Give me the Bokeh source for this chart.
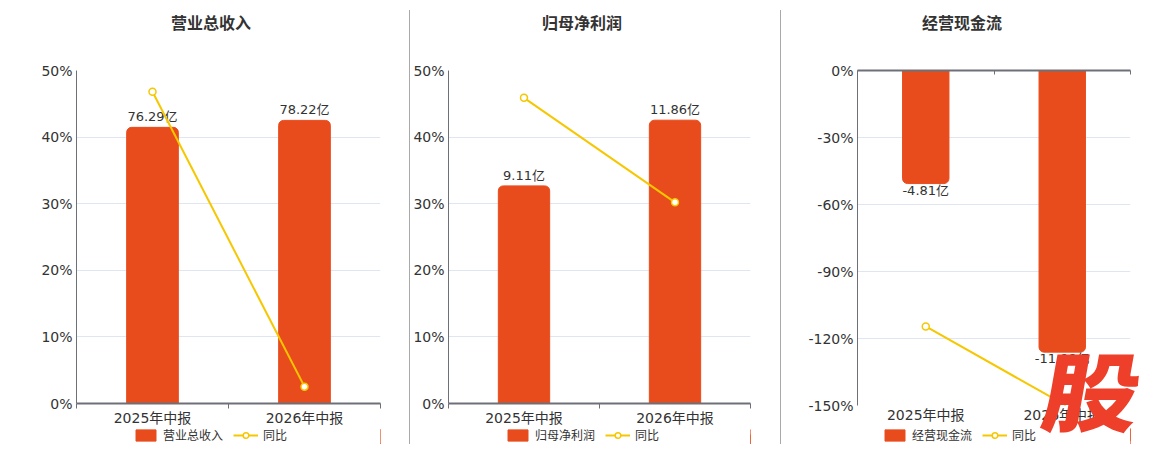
from bokeh.plotting import figure
from bokeh.models import (Range1d, FixedTicker, LinearAxis, Legend, LegendItem,
                          Div, PrintfTickFormatter)
from bokeh.layouts import row, column
from bokeh.embed import file_html
from bokeh.resources import INLINE
from bokeh.core.properties import value

# ---------------- data ----------------
categories = ["2025年中报", "2026年中报"]
titles = ["营业总收入", "归母净利润", "经营现金流"]
revenue = [76.29, 78.22]
revenue_label = ["76.29亿", "78.22亿"]
revenue_yoy = [46.8, 2.53]
profit = [9.11, 11.86]
profit_label = ["9.11亿", "11.86亿"]
profit_yoy = [45.9, 30.2]
cashflow = [-4.81, -11.98]
cashflow_label = ["-4.81亿", "-11.98亿"]
cashflow_yoy = [-114.6, -149.1]
pct_ticks_pos = [0, 10, 20, 30, 40, 50]
pct_ticks_neg = [-150, -120, -90, -60, -30, 0]
yoy_name = "同比"
watermark = "股"

BAR = "#E84C1D"
LINE = "#F6C700"
TXT = "#333333"
AXIS = "#6E7079"
GRID = "#E0E6F1"
FONT = "DejaVu Sans, Noto Sans CJK SC"
CJK = "Noto Sans CJK SC"

n = len(categories)
xs = [i + 0.5 for i in range(n)]
bounds = list(range(n + 1))


def panel(title, vals, labels, yoy, ticks, bar_range, width, left, right,
          title_left, legend_left, neg=False):
    ylo, yhi = min(ticks), max(ticks)

    head = Div(width=width, height=44, margin=0,
               text=('<div style="padding-left:%dpx;line-height:44px;'
                     'font-family:\'%s\';font-size:16px;font-weight:bold;'
                     'color:%s;white-space:nowrap;">%s</div>')
               % (title_left, CJK, TXT, title))

    p = figure(width=width, height=384, x_range=Range1d(0, n),
               y_range=Range1d(ylo, yhi), output_backend="svg",
               toolbar_location=None, min_border_left=left,
               min_border_right=right, min_border_top=26,
               min_border_bottom=23)
    p.outline_line_color = None
    p.background_fill_color = "white"
    p.border_fill_color = "white"
    p.extra_y_ranges = {"bar": Range1d(*bar_range)}

    # axes
    p.yaxis.ticker = FixedTicker(ticks=ticks)
    p.yaxis.formatter = PrintfTickFormatter(format="%d%%")
    p.yaxis.major_tick_out = 0
    p.yaxis.major_tick_in = 0
    p.yaxis.minor_tick_out = 0
    p.yaxis.axis_line_color = AXIS
    p.yaxis.major_label_text_font = FONT
    p.yaxis.major_label_text_font_size = "14px"
    p.yaxis.major_label_text_color = TXT
    p.yaxis.major_label_standoff = 4
    p.ygrid.grid_line_color = GRID
    p.xgrid.visible = False

    p.xaxis.ticker = FixedTicker(ticks=xs, minor_ticks=bounds)
    p.xaxis.major_label_overrides = {x: c for x, c in zip(xs, categories)}
    p.xaxis.major_tick_out = 0
    p.xaxis.major_tick_in = 0
    p.xaxis.minor_tick_in = 0
    p.xaxis.major_label_text_font = FONT
    p.xaxis.major_label_text_font_size = "14px"
    p.xaxis.major_label_text_color = TXT
    p.xaxis.major_label_standoff = 1
    if neg:
        p.xaxis.axis_line_alpha = 0
        p.xaxis.minor_tick_out = 0
        ax = LinearAxis(ticker=FixedTicker(ticks=bounds, minor_ticks=[]),
                        major_tick_in=4, major_tick_out=0, minor_tick_out=0,
                        axis_line_color=AXIS, axis_line_width=2,
                        major_tick_line_color=AXIS,
                        major_label_text_font_size="0px")
        p.add_layout(ax, "above")
    else:
        p.xaxis.axis_line_color = AXIS
        p.xaxis.axis_line_width = 2
        p.xaxis.minor_tick_out = 5
        p.xaxis.minor_tick_line_color = AXIS

    # bars + value labels
    if neg:
        p.vbar(x=xs, top=0, bottom=vals, width=0.34, color=BAR,
               y_range_name="bar", border_radius=(0, 0, 5, 5))
        p.text(x=xs, y=vals, text=labels, y_range_name="bar",
               text_align="center", text_baseline="top", y_offset=-1,
               text_font=value(FONT), text_font_size="13px", text_color=TXT)
    else:
        p.vbar(x=xs, top=vals, bottom=0, width=0.34, color=BAR,
               y_range_name="bar", border_radius=(5, 5, 0, 0))
        p.text(x=xs, y=vals, text=labels, y_range_name="bar",
               text_align="center", text_baseline="bottom", y_offset=-3,
               text_font=value(FONT), text_font_size="13px", text_color=TXT)

    # yoy line
    p.line(xs, yoy, line_color=LINE, line_width=2)
    p.scatter(xs, yoy, marker="circle", size=7, fill_color="white",
              line_color=LINE, line_width=1.5)

    # legend strip: its own canvas below the axis labels; the key renderers
    # carry the same series, which fall far outside this strip's visible span
    lg = figure(width=width, height=16, x_range=Range1d(-4 * n, -3 * n),
                y_range=Range1d(ylo, yhi), output_backend="svg",
                toolbar_location=None, x_axis_type=None, y_axis_type=None,
                min_border=0, min_border_left=left, min_border_right=right,
                min_border_top=0, min_border_bottom=0)
    lg.outline_line_color = None
    lg.grid.visible = False
    lg.background_fill_alpha = 0
    lg.border_fill_alpha = 0
    kb = lg.vbar(x=xs, top=yoy, width=0.34, color=BAR)
    kl = lg.line(x=xs, y=yoy, line_color=LINE, line_width=2)
    ks = lg.scatter(x=xs, y=yoy, marker="circle", size=7, fill_color="white",
                    line_color=LINE, line_width=1.5)
    legend = Legend(items=[LegendItem(label=title, renderers=[kb]),
                           LegendItem(label=yoy_name, renderers=[kl, ks])],
                    orientation="horizontal", location=(legend_left, 1),
                    glyph_width=25, glyph_height=14, label_height=14,
                    label_standoff=5, spacing=10, padding=0, margin=0,
                    border_line_alpha=0, background_fill_alpha=0,
                    label_text_font=FONT, label_text_font_size="12px",
                    label_text_color=TXT)
    lg.add_layout(legend, "center")
    return column(head, p, lg)


c1 = panel(titles[0], revenue, revenue_label, revenue_yoy, pct_ticks_pos,
           (0, 92.0), 409, 76, 29, 171, 57)
c2 = panel(titles[1], profit, profit_label, profit_yoy, pct_ticks_pos,
           (0, 13.94), 370, 36, 30, 132, 57)
c3 = panel(titles[2], cashflow, cashflow_label, cashflow_yoy,
           pct_ticks_neg, (-14.25, 0), 370, 76, 21, 141, 25, neg=True)


def sep():
    return Div(width=1, height=434, margin=(10, 0, 0, 0),
               styles={"background-color": "#A9A9A9"})


mark = Div(width=111, height=104, margin=0,
           text=('<div style="text-align:center;line-height:1;">'
                 '<span style="display:inline-block;font-family:\'%s\';'
                 'font-size:86px;font-weight:900;color:#EE3F2B;'
                 'transform:skewX(-10deg) scaleX(1.12);">%s</span></div>')
           % (CJK, watermark),
           styles={"position": "absolute", "left": "1050px", "top": "345px",
                   "z-index": "10"})

layout = row(c1, sep(), c2, sep(), c3, mark)
open("out.html", "w").write(file_html(layout, INLINE))
